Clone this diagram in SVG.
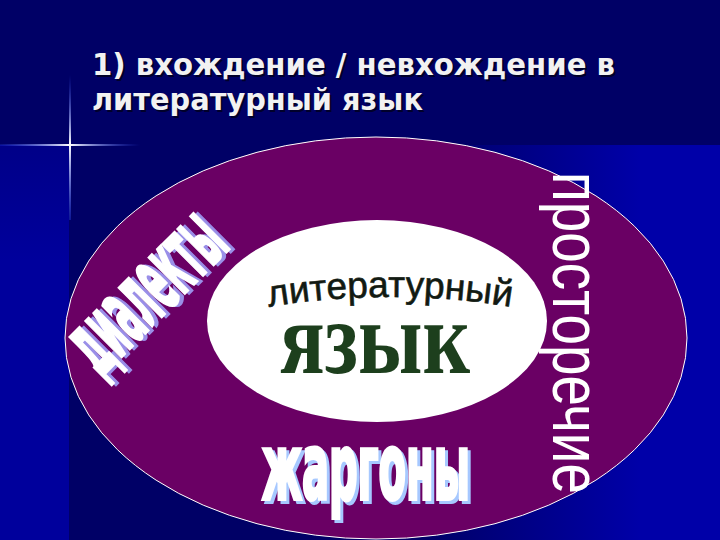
<svg xmlns="http://www.w3.org/2000/svg" width="720" height="540" viewBox="0 0 720 540">
  <defs>
    <linearGradient id="leftStrip" x1="0" y1="145" x2="0" y2="260" gradientUnits="userSpaceOnUse">
      <stop offset="0" stop-color="#000088"/>
      <stop offset="1" stop-color="#00009c"/>
    </linearGradient>
    <linearGradient id="rightGlow" x1="420" y1="0" x2="640" y2="0" gradientUnits="userSpaceOnUse">
      <stop offset="0" stop-color="#0000a8" stop-opacity="0"/>
      <stop offset="1" stop-color="#0000a8" stop-opacity="1"/>
    </linearGradient>
    <linearGradient id="hLine" x1="0" y1="0" x2="140" y2="0" gradientUnits="userSpaceOnUse">
      <stop offset="0" stop-color="#3050ff" stop-opacity="0.2"/>
      <stop offset="0.5" stop-color="#ffffff"/>
      <stop offset="1" stop-color="#3050ff" stop-opacity="0"/>
    </linearGradient>
    <linearGradient id="vLine" x1="0" y1="75" x2="0" y2="220" gradientUnits="userSpaceOnUse">
      <stop offset="0" stop-color="#3050ff" stop-opacity="0"/>
      <stop offset="0.48" stop-color="#ffffff"/>
      <stop offset="1" stop-color="#3050ff" stop-opacity="0.3"/>
    </linearGradient>
    <path id="arcLit" d="M 262 308 Q 390 286 518 308"/>
  </defs>
  <style>
    .title { font-family: "DejaVu Sans", "Liberation Sans", sans-serif; font-weight: bold; font-size: 30px; fill: #f2f2f2; }
    .titleShadow { font-family: "DejaVu Sans", "Liberation Sans", sans-serif; font-weight: bold; font-size: 30px; fill: #00002a; }
    .impact { font-family: "DejaVu Sans", "Liberation Sans", sans-serif; font-weight: bold; }
  </style>

  <g id="background">
    <rect x="0" y="0" width="720" height="540" fill="#000066"/>
    <rect x="0" y="145" width="69" height="395" fill="url(#leftStrip)"/>
    <rect x="420" y="145" width="300" height="395" fill="url(#rightGlow)"/>
    <rect x="0" y="144" width="140" height="2" fill="url(#hLine)"/>
    <rect x="69" y="75" width="2" height="145" fill="url(#vLine)"/>
  </g>

  <g id="title">
    <text class="titleShadow" x="94" y="77" textLength="523" lengthAdjust="spacingAndGlyphs">1) вхождение / невхождение в</text>
    <text class="title" x="92" y="75" textLength="523" lengthAdjust="spacingAndGlyphs">1) вхождение / невхождение в</text>
    <text class="titleShadow" x="94" y="112" textLength="331" lengthAdjust="spacingAndGlyphs">литературный язык</text>
    <text class="title" x="92" y="110" textLength="331" lengthAdjust="spacingAndGlyphs">литературный язык</text>
  </g>

  <g id="outer-ellipse">
    <ellipse cx="376" cy="338" rx="311" ry="201" fill="#6a0064" stroke="#ffffff" stroke-width="1"/>
  </g>

  <g id="inner-ellipse">
    <ellipse cx="377" cy="321" rx="170" ry="101" fill="#ffffff"/>
    <text font-family="Liberation Sans, Arial, sans-serif" font-size="37" fill="#121a12" stroke="#121a12" stroke-width="0.6">
      <textPath href="#arcLit" startOffset="50%" text-anchor="middle">литературный</textPath>
    </text>
    <text x="280" y="373" font-family="Liberation Serif, Times New Roman, serif" font-weight="bold" font-size="104" fill="#1d3f1d" textLength="190" lengthAdjust="spacingAndGlyphs">язык</text>
  </g>

  <g id="dialects">
    <g transform="translate(147,293) rotate(-45)">
      <text class="impact" x="3" y="30" text-anchor="middle" font-size="92" fill="#9a8fe8" stroke="#9a8fe8" stroke-width="3" textLength="185" lengthAdjust="spacingAndGlyphs">диалекты</text>
      <text class="impact" x="0" y="27" text-anchor="middle" font-size="92" fill="#ffffff" stroke="#ffffff" stroke-width="3" textLength="185" lengthAdjust="spacingAndGlyphs">диалекты</text>
    </g>
  </g>

  <g id="jargons">
    <text class="impact" x="265" y="502" font-size="90" fill="#a6c8ff" stroke="#a6c8ff" stroke-width="4" textLength="208" lengthAdjust="spacingAndGlyphs">жаргоны</text>
    <text class="impact" x="262" y="499" font-size="90" fill="#ffffff" stroke="#ffffff" stroke-width="4" textLength="208" lengthAdjust="spacingAndGlyphs">жаргоны</text>
  </g>

  <g id="prostorechie">
    <text transform="translate(553,172) rotate(90)" font-family="Liberation Sans, Arial, sans-serif" font-size="68" fill="#ffffff" textLength="322" lengthAdjust="spacingAndGlyphs">просторечие</text>
  </g>
</svg>
